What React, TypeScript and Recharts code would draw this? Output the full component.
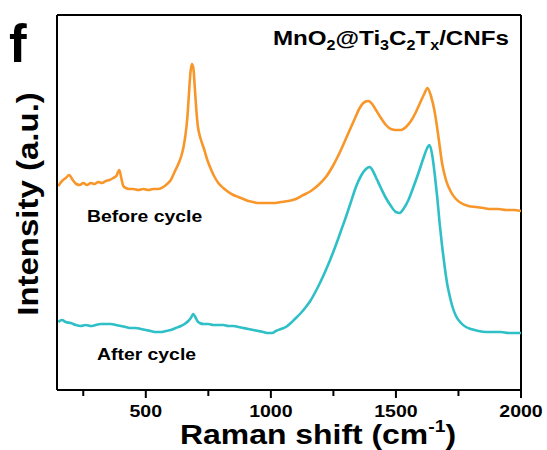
import { LineChart, Line, XAxis, YAxis, ReferenceLine, Customized } from 'recharts'

// Raman spectra (intensity in arbitrary units)
const beforeShift = [150, 165, 180, 194, 208, 222, 236, 250, 265, 280, 295, 310, 325, 340, 355, 370, 382, 394, 402, 410, 420, 435, 450, 470, 490, 510, 530, 550, 570, 585, 600, 615, 630, 642, 650, 658, 666, 672, 678, 684, 690, 696, 702, 708, 716, 726, 734, 746, 760, 775, 790, 810, 830, 850, 870, 890, 910, 930, 950, 980, 1010, 1040, 1070, 1100, 1130, 1160, 1190, 1220, 1250, 1280, 1310, 1335, 1355, 1375, 1390, 1405, 1420, 1440, 1460, 1480, 1500, 1520, 1540, 1560, 1580, 1600, 1615, 1626, 1640, 1655, 1670, 1685, 1700, 1720, 1740, 1760, 1790, 1820, 1850, 1880, 1910, 1940, 1970, 2000]
const beforeIntensity = [206, 211, 214, 217, 212, 208, 207, 209, 207, 209, 208, 210, 209, 211, 212, 214, 216, 222, 214, 206, 204, 203, 203, 202, 203, 202, 203, 203, 205, 208, 212, 220, 228, 236, 244, 256, 274, 296, 318, 328, 324, 304, 282, 266, 256, 248, 242, 232, 223, 215, 209, 204, 200, 197, 195, 193, 191, 190, 189, 189, 189, 190, 191, 193, 197, 201, 207, 215, 227, 242, 259, 273, 284, 290, 291, 288, 282, 274, 267, 263, 262, 262, 265, 271, 280, 291, 299, 304, 296, 280, 255, 228, 212, 200, 193, 189, 186, 185, 184, 183, 183, 182, 182, 181]

const afterShift = [150, 165, 180, 200, 220, 240, 260, 280, 300, 320, 340, 360, 380, 400, 420, 440, 460, 480, 500, 520, 540, 560, 580, 600, 620, 640, 655, 670, 680, 690, 698, 706, 716, 730, 750, 770, 790, 810, 830, 850, 870, 890, 910, 930, 950, 970, 990, 1005, 1020, 1040, 1060, 1080, 1100, 1120, 1140, 1160, 1180, 1200, 1220, 1240, 1260, 1280, 1300, 1320, 1340, 1360, 1380, 1395, 1410, 1425, 1440, 1460, 1480, 1500, 1515, 1530, 1550, 1570, 1590, 1610, 1625, 1634, 1645, 1655, 1665, 1675, 1685, 1695, 1705, 1715, 1725, 1740, 1760, 1780, 1800, 1830, 1860, 1890, 1920, 1950, 1980, 2000]
const afterIntensity = [70, 72, 70, 69, 67, 66, 67, 66, 67, 68, 68, 68, 67, 66, 65, 64, 64, 63, 62, 61, 60, 60, 61, 62, 64, 66, 68, 71, 74, 78, 75, 71, 69, 68, 68, 67, 67, 67, 66, 66, 65, 64, 63, 62, 61, 60, 59, 59, 61, 63, 65, 69, 74, 79, 85, 92, 101, 111, 122, 134, 147, 161, 175, 190, 205, 216, 223, 225, 220, 212, 204, 194, 186, 180, 179, 183, 192, 205, 219, 234, 244, 247, 237, 218, 195, 168, 145, 125, 108, 96, 86, 76, 69, 65, 63, 61, 60, 60, 60, 59, 59, 59]

const majorTicks = [500, 1000, 1500, 2000]
const allTicks = [250, 500, 750, 1000, 1250, 1500, 1750, 2000]

const beforeData = beforeShift.map((x, i) => ({ x, y: beforeIntensity[i] }))
const afterData = afterShift.map((x, i) => ({ x, y: afterIntensity[i] }))

const FONT = '"Liberation Sans", Arial, Helvetica, sans-serif'
const bold = { fontFamily: FONT, fontWeight: 700 }

const AxisTick = ({ x, y, payload }: { x: number; y: number; payload: { value: number } }) => {
  const major = majorTicks.includes(payload.value)
  return (
    <g>
      <line x1={x} x2={x} y1={y} y2={y + (major ? 8 : 6)} stroke="#000" strokeWidth={2} />
      {major && (
        <text
          transform={`translate(${x} ${y + 27}) scale(1.15 1)`}
          textAnchor="middle"
          fontSize={17}
          fill="#000"
          style={bold}
        >
          {payload.value}
        </text>
      )}
    </g>
  )
}

// text annotations
const Annotations = () => (
  <g fill="#000" style={bold}>
    <text x={9} y={62} fontSize={53}>f</text>
    <text transform="translate(273 45) scale(1.15 1)" fontSize={21}>
      MnO<tspan fontSize={14} dy={5}>2</tspan>
      <tspan dy={-5}>@Ti</tspan>
      <tspan fontSize={14} dy={5}>3</tspan>
      <tspan dy={-5}>C</tspan>
      <tspan fontSize={14} dy={5}>2</tspan>
      <tspan dy={-5}>T</tspan>
      <tspan fontSize={14} dy={5}>x</tspan>
      <tspan dy={-5}>/CNFs</tspan>
    </text>
    <text transform="translate(87 222) scale(1.14 1)" fontSize={17}>Before cycle</text>
    <text transform="translate(97 360) scale(1.14 1)" fontSize={17}>After cycle</text>
    <text transform="translate(38 204) rotate(-90) scale(1.1 1)" fontSize={30} textAnchor="middle">
      Intensity (a.u.)
    </text>
    <text transform="translate(180 444) scale(1.14 1)" fontSize={28}>
      Raman shift (cm<tspan fontSize={17} dy={-12}>-1</tspan>
      <tspan dy={12}>)</tspan>
    </text>
  </g>
)

export default function App() {
  return (
    <div style={{ position: 'absolute', left: 0, top: 0, background: '#fff' }}>
      <LineChart width={547} height={450} margin={{ top: 15, right: 26, left: 0, bottom: 0 }}>
        <XAxis
          type="number"
          dataKey="x"
          domain={[145, 2000]}
          ticks={allTicks}
          allowDataOverflow
          height={60}
          tickSize={0}
          tickMargin={0}
          tickLine={false}
          tick={AxisTick}
          axisLine={{ stroke: '#000', strokeWidth: 2 }}
        />
        <YAxis
          type="number"
          dataKey="y"
          domain={[2, 377]}
          width={57}
          tick={false}
          tickLine={false}
          axisLine={{ stroke: '#000', strokeWidth: 2 }}
        />
        <ReferenceLine x={2000} stroke="#000" strokeWidth={2} />
        <ReferenceLine y={377} stroke="#000" strokeWidth={2} />
        <Line
          data={beforeData}
          dataKey="y"
          type="monotone"
          stroke="#F8962A"
          strokeWidth={2.6}
          dot={false}
          isAnimationActive={false}
        />
        <Line
          data={afterData}
          dataKey="y"
          type="monotone"
          stroke="#2FBFC6"
          strokeWidth={2.6}
          dot={false}
          isAnimationActive={false}
        />
        <Customized component={Annotations} />
      </LineChart>
    </div>
  )
}
